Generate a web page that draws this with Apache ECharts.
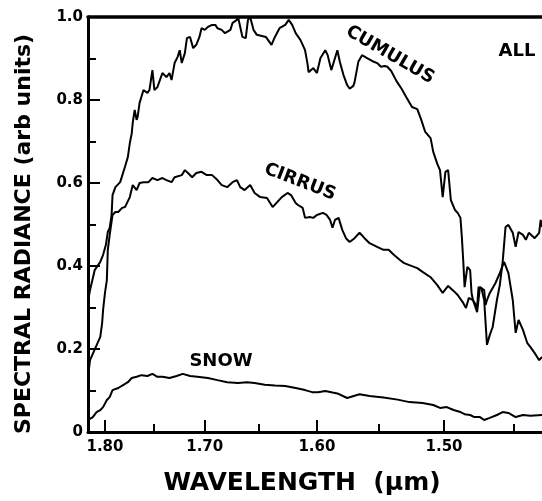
<!DOCTYPE html>
<html>
<head>
<meta charset="utf-8">
<script src="https://cdn.jsdelivr.net/npm/echarts@6/dist/echarts.min.js"></script>
<style>
  html, body { margin: 0; padding: 0; background: #fff; }
  #chart { width: 542px; height: 501px; }
</style>
</head>
<body>
<div id="chart"></div>
<script>
// Spectral radiance of three scene types across the 1.5-1.8 um window.
// Each curve is a list of [wavelength (um), radiance (arb units)].
const cumulus = [
  [1.818,0.318],[1.816,0.342],[1.811,0.390],[1.805,0.410],[1.802,0.427],[1.799,0.451],
  [1.797,0.482],[1.795,0.492],[1.793,0.523],[1.792,0.571],[1.789,0.590],[1.784,0.602],
  [1.782,0.600],[1.779,0.639],[1.777,0.655],[1.776,0.663],[1.774,0.696],[1.772,0.720],
  [1.771,0.745],[1.769,0.776],[1.767,0.752],[1.766,0.759],[1.764,0.793],[1.760,0.824],
  [1.756,0.817],[1.754,0.824],[1.751,0.872],[1.749,0.824],[1.746,0.831],[1.741,0.865],
  [1.737,0.855],[1.734,0.865],[1.732,0.848],[1.729,0.889],[1.726,0.904],[1.724,0.920],
  [1.722,0.889],[1.719,0.913],[1.717,0.949],[1.714,0.952],[1.711,0.925],[1.708,0.933],
  [1.705,0.952],[1.703,0.973],[1.700,0.969],[1.697,0.976],[1.693,0.981],[1.690,0.981],
  [1.688,0.973],[1.684,0.969],[1.681,0.961],[1.676,0.969],[1.674,0.986],[1.670,0.993],
  [1.669,1.000],[1.665,0.952],[1.662,0.949],[1.660,0.993],[1.658,1.000],[1.655,0.969],
  [1.652,0.957],[1.644,0.952],[1.639,0.933],[1.636,0.952],[1.632,0.973],[1.627,0.981],
  [1.624,0.993],[1.621,0.981],[1.618,0.961],[1.614,0.945],[1.612,0.933],[1.610,0.920],
  [1.608,0.889],[1.607,0.867],[1.603,0.877],[1.600,0.865],[1.597,0.901],[1.593,0.920],
  [1.591,0.908],[1.588,0.872],[1.587,0.872],[1.583,0.920],[1.581,0.892],[1.578,0.860],
  [1.575,0.836],[1.573,0.827],[1.570,0.834],[1.569,0.843],[1.566,0.892],[1.563,0.908],
  [1.559,0.901],[1.555,0.894],[1.551,0.889],[1.548,0.880],[1.545,0.882],[1.543,0.880],
  [1.540,0.870],[1.536,0.846],[1.532,0.827],[1.528,0.805],[1.524,0.783],[1.520,0.778],
  [1.517,0.752],[1.514,0.723],[1.510,0.708],[1.508,0.675],[1.505,0.646],[1.503,0.631],
  [1.501,0.566],[1.499,0.627],[1.497,0.631],[1.495,0.559],[1.492,0.535],[1.490,0.528],
  [1.488,0.516],[1.487,0.470],[1.486,0.414],[1.485,0.349],[1.483,0.398],[1.481,0.390],
  [1.480,0.335],[1.479,0.318],[1.476,0.301],[1.475,0.349],[1.473,0.347],[1.471,0.318],
  [1.469,0.210],[1.467,0.234],[1.465,0.253],[1.462,0.318],[1.460,0.354],[1.458,0.410],
  [1.456,0.494],[1.454,0.499],[1.451,0.480],[1.449,0.446],[1.447,0.482],[1.444,0.475],
  [1.442,0.463],[1.440,0.480],[1.436,0.467],[1.433,0.480],[1.432,0.511],[1.431,0.494]
];

const cirrus = [
  [1.818,0.137],[1.816,0.173],[1.805,0.229],[1.803,0.263],[1.802,0.294],[1.800,0.335],
  [1.798,0.366],[1.797,0.439],[1.795,0.475],[1.792,0.523],[1.789,0.530],[1.786,0.530],
  [1.782,0.540],[1.779,0.542],[1.774,0.566],[1.771,0.595],[1.767,0.583],[1.764,0.600],
  [1.760,0.602],[1.755,0.602],[1.751,0.612],[1.746,0.607],[1.741,0.612],[1.737,0.607],
  [1.732,0.602],[1.729,0.614],[1.722,0.619],[1.719,0.631],[1.716,0.624],[1.712,0.614],
  [1.708,0.624],[1.703,0.627],[1.698,0.619],[1.693,0.619],[1.688,0.607],[1.684,0.595],
  [1.679,0.590],[1.674,0.602],[1.670,0.607],[1.667,0.590],[1.663,0.583],[1.658,0.595],
  [1.654,0.576],[1.649,0.566],[1.643,0.564],[1.638,0.542],[1.634,0.554],[1.630,0.566],
  [1.625,0.576],[1.622,0.571],[1.618,0.552],[1.616,0.547],[1.612,0.540],[1.610,0.516],
  [1.606,0.518],[1.603,0.516],[1.600,0.523],[1.595,0.528],[1.592,0.523],[1.589,0.511],
  [1.587,0.492],[1.585,0.511],[1.582,0.516],[1.579,0.487],[1.576,0.467],[1.573,0.458],
  [1.569,0.467],[1.565,0.480],[1.561,0.467],[1.557,0.455],[1.551,0.446],[1.546,0.439],
  [1.542,0.439],[1.538,0.427],[1.533,0.414],[1.530,0.407],[1.526,0.402],[1.520,0.395],
  [1.516,0.386],[1.510,0.373],[1.505,0.354],[1.501,0.335],[1.497,0.352],[1.493,0.340],
  [1.490,0.330],[1.486,0.311],[1.484,0.299],[1.482,0.323],[1.479,0.318],[1.476,0.289],
  [1.474,0.349],[1.471,0.342],[1.470,0.306],[1.469,0.318],[1.467,0.335],[1.463,0.359],
  [1.460,0.383],[1.457,0.410],[1.456,0.410],[1.454,0.383],[1.451,0.318],[1.449,0.239],
  [1.447,0.270],[1.444,0.246],[1.441,0.214],[1.439,0.205],[1.436,0.190],[1.433,0.173],
  [1.431,0.181]
];

const snow = [
  [1.818,0.029],[1.813,0.036],[1.809,0.048],[1.805,0.053],[1.802,0.060],[1.798,0.077],
  [1.795,0.084],[1.792,0.101],[1.786,0.106],[1.781,0.113],[1.776,0.120],[1.772,0.130],
  [1.767,0.133],[1.762,0.137],[1.756,0.135],[1.751,0.140],[1.746,0.133],[1.741,0.133],
  [1.734,0.130],[1.727,0.135],[1.721,0.140],[1.714,0.135],[1.707,0.133],[1.697,0.130],
  [1.688,0.125],[1.679,0.120],[1.669,0.118],[1.661,0.120],[1.654,0.118],[1.645,0.114],
  [1.636,0.112],[1.627,0.111],[1.618,0.106],[1.610,0.101],[1.604,0.096],[1.599,0.096],
  [1.593,0.099],[1.587,0.095],[1.583,0.093],[1.575,0.082],[1.565,0.091],[1.557,0.087],
  [1.546,0.083],[1.535,0.078],[1.526,0.072],[1.516,0.070],[1.508,0.065],[1.503,0.058],
  [1.498,0.060],[1.493,0.053],[1.488,0.048],[1.485,0.043],[1.481,0.041],[1.478,0.036],
  [1.474,0.036],[1.471,0.029],[1.467,0.034],[1.462,0.041],[1.458,0.048],[1.454,0.046],
  [1.449,0.036],[1.444,0.041],[1.439,0.039],[1.431,0.041]
];

// Axis ticks (wavelength in um, radiance in arb units)
const wavelengthTicks = [1.80, 1.70, 1.60, 1.50];
const wavelengthMinorTicks = [1.75, 1.65, 1.55, 1.45];
const wavelengthRange = [1.8182, 1.4311];
const radianceRange = [0, 1.0];
const radianceStep = 0.2;

// The wavelength scale is drawn linear in wavenumber (1/lambda).
const toWn = w => 1 / w;
const wnData = arr => arr.map(([w, v]) => [toWn(w), v]);

const FONT = '"DejaVu Sans", sans-serif';
const black = '#000';

const chart = echarts.init(document.getElementById('chart'), null, { renderer: 'canvas' });

const gridBox = { left: 88, top: 17, right: 0, bottom: 69 };
const xMin = toWn(wavelengthRange[0]);
const xMax = toWn(wavelengthRange[1]);

const lineSeries = (name, arr) => ({
  name, type: 'line', xAxisIndex: 0, yAxisIndex: 0,
  data: wnData(arr), showSymbol: false, symbol: 'none',
  lineStyle: { color: black, width: 2 }, silent: true, animation: false, clip: true
});

chart.setOption({
  animation: false,
  backgroundColor: '#fff',
  grid: [
    Object.assign({}, gridBox),
    Object.assign({}, gridBox)
  ],
  xAxis: [
    {
      gridIndex: 0, type: 'value', position: 'bottom', min: xMin, max: xMax,
      axisLine: { show: true, onZero: false, lineStyle: { color: black, width: 3 } },
      axisTick: { show: true, inside: true, length: 12,
        customValues: wavelengthTicks.map(toWn), lineStyle: { color: black, width: 2 } },
      axisLabel: { show: true, customValues: wavelengthTicks.map(toWn), margin: 8,
        formatter: v => (1 / v).toFixed(2), color: black, fontFamily: FONT,
        fontWeight: 'bold', fontSize: 15 },
      splitLine: { show: false }
    },
    {
      gridIndex: 0, type: 'value', position: 'top', min: xMin, max: xMax,
      axisLine: { show: true, onZero: false, lineStyle: { color: black, width: 3.5 } },
      axisTick: { show: false }, axisLabel: { show: false }, splitLine: { show: false }
    },
    {
      gridIndex: 1, type: 'value', position: 'bottom', min: xMin, max: xMax,
      axisLine: { show: false, onZero: false },
      axisTick: { show: true, inside: true, length: 8,
        customValues: wavelengthMinorTicks.map(toWn), lineStyle: { color: black, width: 2 } },
      axisLabel: { show: false }, splitLine: { show: false }
    }
  ],
  yAxis: [
    {
      gridIndex: 0, type: 'value', min: radianceRange[0], max: radianceRange[1], interval: radianceStep,
      axisLine: { show: true, onZero: false, lineStyle: { color: black, width: 3 } },
      axisTick: { show: true, inside: true, length: 12, lineStyle: { color: black, width: 2 } },
      minorTick: { show: true, splitNumber: 2, length: 8, lineStyle: { color: black, width: 2 } },
      axisLabel: { show: true, margin: 5, color: black, fontFamily: FONT, fontWeight: 'bold',
        fontSize: 15, formatter: v => (v === 0 ? '0' : v.toFixed(1)) },
      splitLine: { show: false }
    },
    {
      gridIndex: 1, type: 'value', min: radianceRange[0], max: radianceRange[1],
      show: false
    }
  ],
  series: [
    lineSeries('Cumulus', cumulus),
    lineSeries('Cirrus', cirrus),
    lineSeries('Snow', snow)
  ],
  graphic: [
    { type: 'text', x: 24, y: 234, rotation: Math.PI / 2,
      style: { text: 'SPECTRAL RADIANCE (arb units)', fill: black, font: 'bold 22px ' + FONT,
        textAlign: 'center', textVerticalAlign: 'middle' } },
    { type: 'text', x: 302, y: 483,
      style: { text: 'WAVELENGTH  (\u03bcm)', fill: black, font: 'bold 25px ' + FONT,
        textAlign: 'center', textVerticalAlign: 'middle' } },
    { type: 'text', x: 390, y: 55, rotation: -30 * Math.PI / 180,
      style: { text: 'CUMULUS', fill: black, font: 'bold 18px ' + FONT,
        textAlign: 'center', textVerticalAlign: 'middle' } },
    { type: 'text', x: 300, y: 182, rotation: -21 * Math.PI / 180,
      style: { text: 'CIRRUS', fill: black, font: 'bold 18px ' + FONT,
        textAlign: 'center', textVerticalAlign: 'middle' } },
    { type: 'text', x: 221, y: 361,
      style: { text: 'SNOW', fill: black, font: 'bold 18px ' + FONT,
        textAlign: 'center', textVerticalAlign: 'middle' } },
    { type: 'text', x: 517, y: 51,
      style: { text: 'ALL', fill: black, font: 'bold 18px ' + FONT,
        textAlign: 'center', textVerticalAlign: 'middle' } }
  ]
});
</script>
</body>
</html>
